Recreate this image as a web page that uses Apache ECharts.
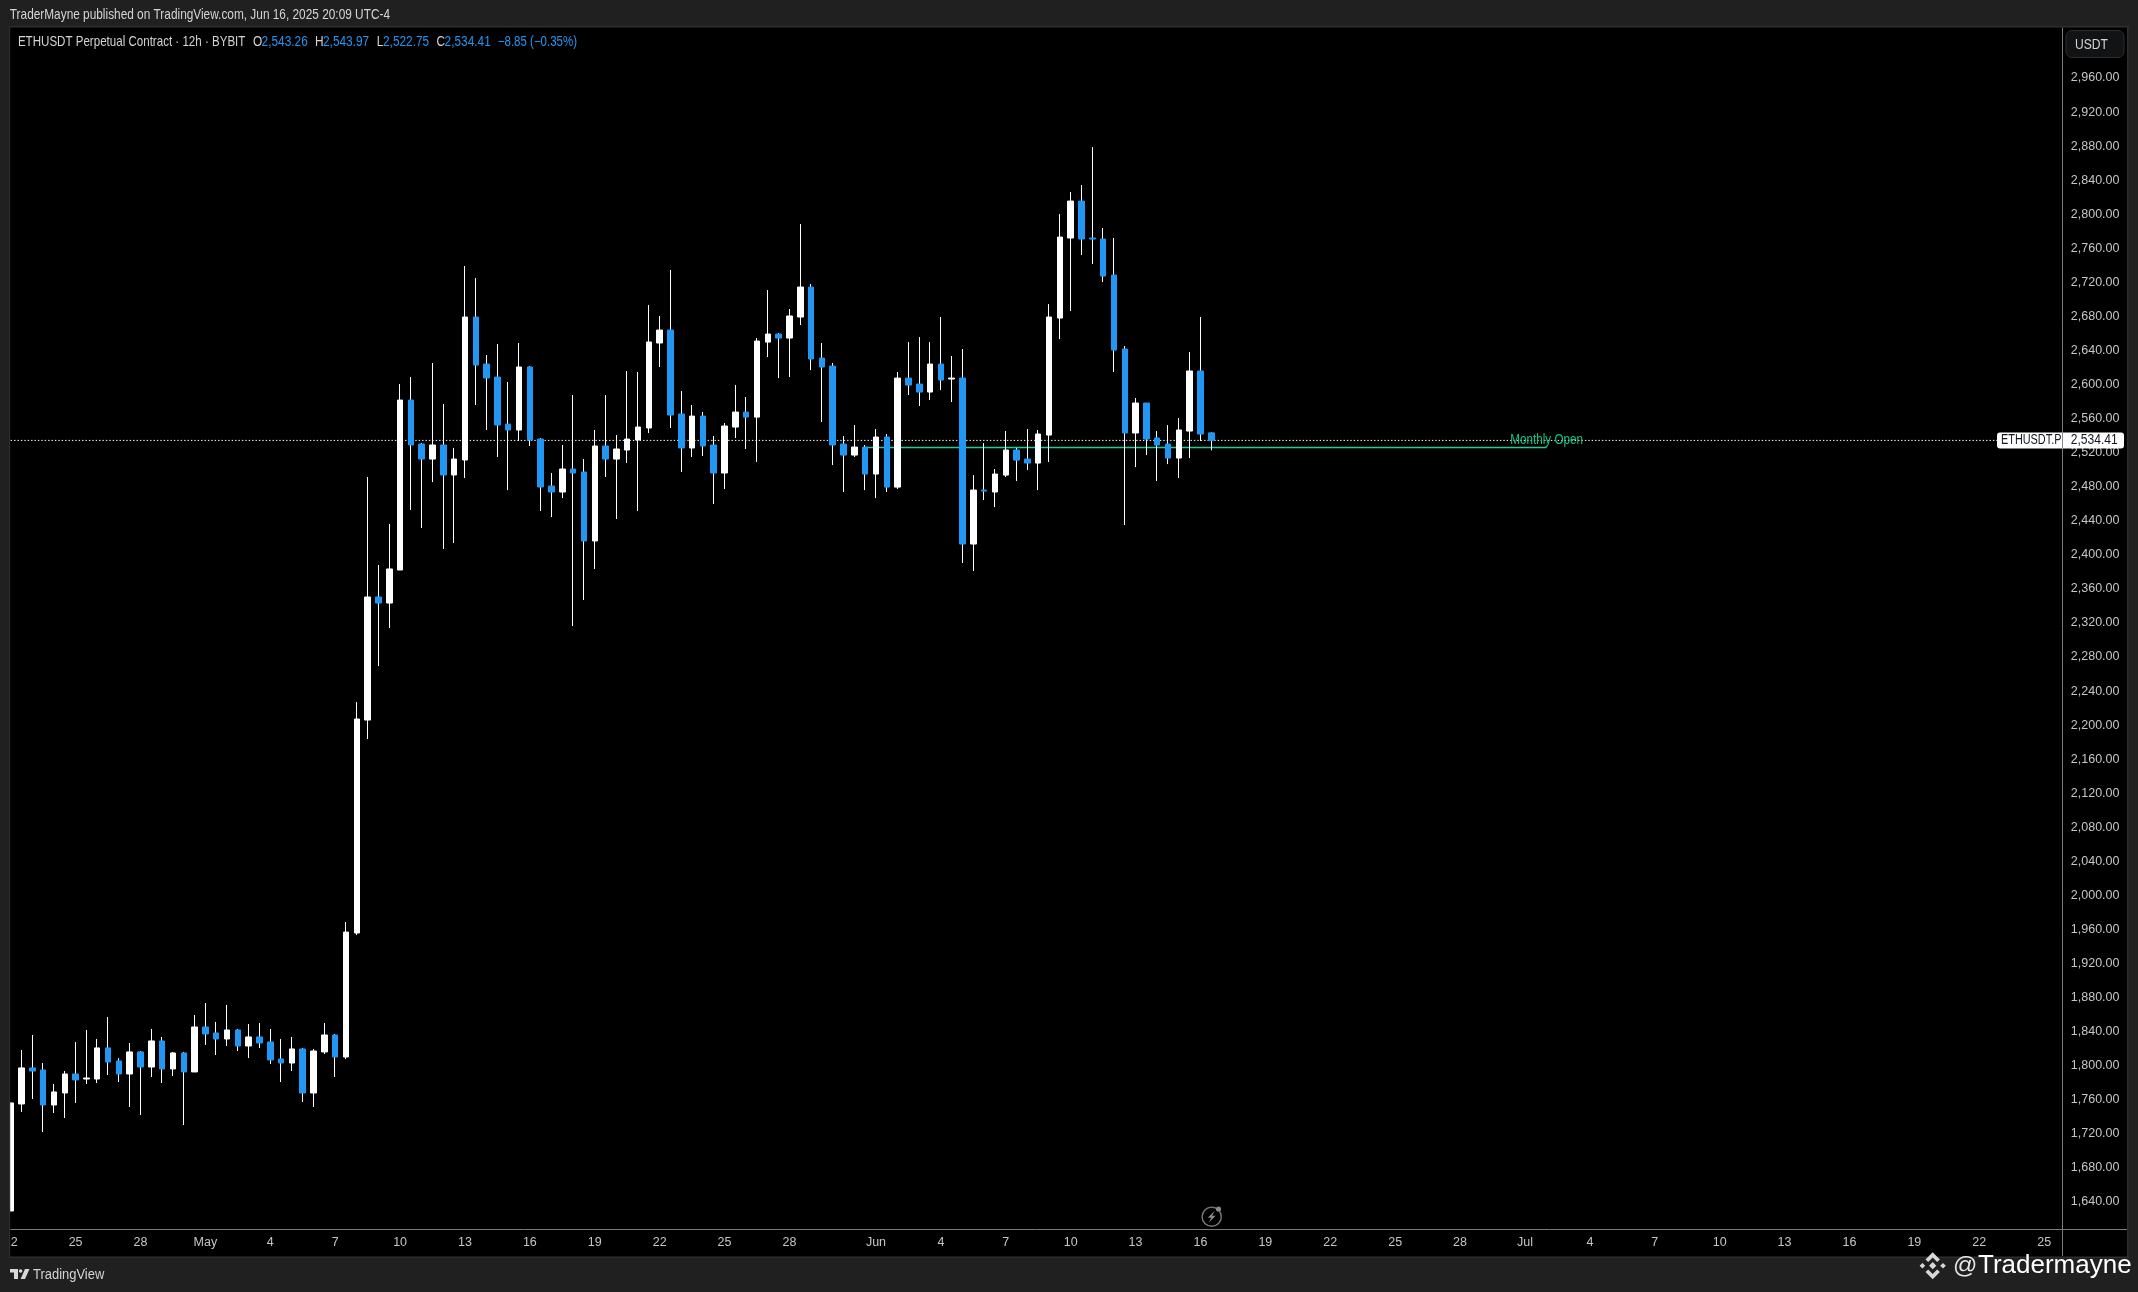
<!DOCTYPE html>
<html><head><meta charset="utf-8">
<style>html,body{margin:0;padding:0;background:#202020;overflow:hidden}#c{width:2138px;height:1292px}</style>
<script src="https://cdn.jsdelivr.net/npm/echarts@6/dist/echarts.min.js"></script>
</head><body><div id="c"></div>
<script>
const opens=[1629.4,1755.1,1797.4,1795.0,1753.9,1768.0,1790.3,1784.4,1784.4,1820.9,1805.6,1790.3,1816.2,1798.5,1829.1,1796.2,1815.0,1792.7,1845.5,1838.5,1831.4,1842.0,1823.2,1833.8,1827.9,1807.9,1803.2,1819.7,1768.0,1816.2,1836.1,1810.3,1955.9,2206.0,2350.5,2343.4,2382.2,2581.8,2530.2,2512.5,2529.0,2493.8,2511.4,2679.3,2624.1,2608.8,2553.6,2546.6,2620.6,2536.0,2480.8,2473.8,2500.8,2497.3,2416.3,2527.8,2512.5,2523.1,2534.9,2549.0,2648.8,2664.0,2565.4,2525.5,2563.0,2529.0,2496.1,2550.1,2567.7,2561.8,2649.9,2659.3,2654.6,2679.3,2714.5,2631.1,2621.7,2530.1,2517.2,2526.6,2494.9,2538.4,2479.6,2607.6,2600.6,2591.2,2624.1,2606.5,2607.6,2412.7,2476.1,2473.8,2493.7,2523.1,2512.5,2507.8,2540.7,2678.1,2772.1,2815.5,2772.1,2770.9,2728.6,2641.7,2543.1,2578.3,2537.2,2530.1,2513.7,2545.4,2615.9,2543.26];
const highs=[1779.7,1818.5,1836.1,1803.2,1778.6,1793.8,1827.9,1842.0,1831.4,1857.3,1809.1,1826.7,1817.3,1843.2,1833.8,1816.2,1816.2,1859.6,1873.7,1851.4,1871.4,1843.2,1849.0,1850.2,1843.2,1831.4,1833.8,1820.9,1819.7,1850.2,1837.3,1968.8,2227.1,2491.4,2388.1,2436.2,2600.6,2608.8,2531.3,2625.3,2577.1,2525.5,2739.2,2725.1,2634.7,2647.6,2603.0,2648.8,2621.8,2537.2,2496.1,2529.0,2587.7,2512.5,2546.6,2587.7,2540.7,2615.9,2614.7,2693.4,2680.5,2734.5,2592.4,2576.0,2567.7,2539.6,2554.8,2599.5,2585.3,2654.6,2711.0,2660.5,2688.7,2788.5,2718.0,2648.8,2625.3,2539.5,2552.4,2529.0,2547.7,2541.9,2614.7,2649.9,2655.8,2649.9,2679.3,2633.5,2641.7,2493.7,2531.3,2500.8,2545.4,2525.4,2547.7,2546.6,2694.5,2800.2,2826.1,2834.3,2878.9,2783.8,2772.1,2645.2,2584.2,2578.3,2545.4,2552.4,2560.7,2638.2,2679.3,2543.97];
const lows=[1625.9,1745.7,1761.0,1722.2,1744.5,1738.6,1756.3,1778.6,1779.7,1789.1,1780.9,1751.6,1742.2,1786.8,1779.7,1788.0,1730.4,1792.7,1824.4,1812.6,1823.2,1817.3,1809.1,1820.9,1802.1,1780.9,1793.8,1757.4,1751.6,1813.8,1786.8,1807.9,1953.5,2183.7,2269.4,2314.1,2382.2,2452.7,2431.5,2485.5,2406.9,2413.9,2490.2,2576.0,2546.6,2514.9,2476.1,2533.7,2527.8,2451.5,2444.4,2466.7,2316.4,2347.0,2383.4,2491.4,2442.1,2507.8,2451.5,2543.1,2620.6,2549.0,2497.3,2514.9,2516.1,2459.7,2477.3,2537.2,2524.3,2509.0,2632.3,2607.6,2608.8,2669.9,2617.0,2556.0,2505.5,2473.8,2514.9,2476.1,2466.7,2473.8,2477.3,2587.7,2574.8,2581.8,2593.5,2579.5,2390.4,2381.0,2464.4,2456.1,2491.4,2486.7,2499.6,2476.1,2509.0,2653.4,2686.3,2752.1,2741.5,2720.4,2614.7,2435.0,2503.1,2517.2,2486.7,2506.6,2490.2,2513.7,2533.7,2522.75];
const closes=[1756.3,1797.4,1793.8,1753.9,1769.2,1790.3,1783.3,1785.6,1820.9,1804.4,1790.3,1816.2,1798.5,1829.1,1796.2,1815.0,1792.7,1845.5,1837.3,1831.4,1842.0,1823.2,1833.8,1826.7,1806.8,1803.2,1819.7,1768.0,1817.3,1836.1,1810.3,1957.0,2207.2,2350.5,2343.4,2383.4,2581.8,2529.0,2512.5,2529.0,2493.8,2512.5,2679.3,2622.9,2607.7,2552.5,2546.6,2620.6,2534.9,2479.7,2473.8,2500.8,2496.1,2416.3,2527.8,2512.5,2524.3,2536.0,2550.1,2650.0,2664.0,2564.2,2525.5,2563.0,2527.8,2496.1,2551.3,2567.7,2561.8,2651.1,2659.3,2654.6,2680.5,2714.5,2630.0,2620.6,2529.0,2517.2,2526.6,2494.9,2538.4,2479.6,2607.6,2599.4,2591.2,2624.1,2605.3,2607.6,2412.7,2476.1,2474.9,2494.9,2523.1,2511.3,2507.8,2541.9,2679.3,2773.2,2815.5,2770.9,2770.9,2727.4,2640.5,2543.1,2578.3,2536.0,2529.0,2513.7,2546.6,2615.9,2541.9,2534.41];

const xTickIndex=[0,6,12,18,24,30,36,42,48,54,60,66,72,80,86,92,98,104,110,116,122,128,134,140,146,152,158,164,170,176,182,188];
const xTickLabels=['22','25','28','May','4','7','10','13','16','19','22','25','28','Jun','4','7','10','13','16','19','22','25','28','Jul','4','7','10','13','16','19','22','25'];
const yTicks=[1640,1680,1720,1760,1800,1840,1880,1920,1960,2000,2040,2080,2120,2160,2200,2240,2280,2320,2360,2400,2440,2480,2520,2560,2600,2640,2680,2720,2760,2800,2840,2880,2920,2960];
const lastClose=2534.41;
const monthlyOpen=2526.1;
const monthlyOpenRange=[79,142];

const FONT='"Liberation Sans",sans-serif';
const idx=opens.map((_,i)=>i);
const wickData=idx.map(i=>[i,opens[i],closes[i],lows[i],highs[i]]);
const bodyData=idx.map(i=>[i,opens[i],closes[i],Math.min(opens[i],closes[i]),Math.max(opens[i],closes[i])]);
const fmt=v=>v.toLocaleString('en-US',{minimumFractionDigits:2,maximumFractionDigits:2});

const chart=echarts.init(document.getElementById('c'),null,{renderer:'canvas',width:2138,height:1292});
chart.setOption({
  animation:false,
  backgroundColor:'#202020',
  grid:{left:10.7,top:27.7,width:2051.6,height:1201.6,containLabel:false},
  xAxis:{type:'value',min:0,max:189.68,splitLine:{show:false},
    axisLine:{show:true,onZero:false,lineStyle:{color:'#7c7c7c',width:1}},
    axisTick:{show:false},
    axisLabel:{customValues:xTickIndex,margin:7,color:'#c6c6c6',fontFamily:FONT,fontSize:12.5,
      formatter:v=>xTickLabels[xTickIndex.indexOf(v)]||''}},
  yAxis:{type:'value',position:'right',min:1607.9,max:3019.1,splitLine:{show:false},scale:true,
    axisLine:{show:true,onZero:false,lineStyle:{color:'#7c7c7c',width:1}},
    axisTick:{show:false},
    axisLabel:{customValues:yTicks,margin:8.5,align:'left',padding:[0,0,2,0],color:'#c6c6c6',fontFamily:FONT,fontSize:12.5,
      formatter:v=>fmt(v)}},
  series:[
    {name:'Last',type:'line',z:1,silent:true,symbol:'none',
     data:[[0,lastClose],[189.68,lastClose]],
     lineStyle:{color:'#ffffff',width:1,type:[1.4,2]}},
    {name:'Monthly Open',type:'line',z:1,silent:true,symbol:'none',
     data:[[monthlyOpenRange[0],monthlyOpen],[monthlyOpenRange[1],monthlyOpen]],
     lineStyle:{color:'#26c996',width:1.4}},
    {name:'Wicks',type:'candlestick',z:2,barWidth:0,silent:true,data:wickData,
     encode:{x:0,y:[1,2,3,4]},
     itemStyle:{color:'#ffffff',color0:'#ffffff',borderColor:'#ffffff',borderColor0:'#ffffff',borderWidth:1}},
    {name:'ETHUSDT',type:'candlestick',z:3,barWidth:6,silent:true,data:bodyData,
     encode:{x:0,y:[1,2,3,4]},
     itemStyle:{color:'#ffffff',color0:'#2196f3',borderColor:'#ffffff',borderColor0:'#2196f3',borderWidth:1}}
  ]
});

const tagY=chart.convertToPixel({yAxisIndex:0},lastClose);
const moPos=chart.convertToPixel({xAxisIndex:0,yAxisIndex:0},[monthlyOpenRange[1],monthlyOpen]);
const TXT='#d4d4d4',BLUE='#2196f3',BD='#2e2e2e',Z=1000,SX=0.835;
const t=(x,y,text,fill,size,extra,sx)=>({type:'text',z:Z+2,x:x,y:y,scaleX:sx||SX,style:Object.assign({text:text,fill:fill,font:size+'px '+FONT,verticalAlign:'middle'},extra||{})});
const rect=(x,y,w,h,fill,extra)=>({type:'rect',z:Z,shape:Object.assign({x:x,y:y,width:w,height:h},extra||{}),style:{fill:fill}});
const poly=(cx,cy,pts,fill)=>({type:'polygon',z:Z+2,shape:{points:pts.map(p=>[cx+p[0],cy+p[1]])},style:{fill:fill}});
const gLine=(x1,y1,x2,y2,c,w)=>({type:'line',z:Z+1,shape:{x1:x1,y1:y1,x2:x2,y2:y2},style:{stroke:c,lineWidth:w}});
const LG='#d8d8d8';
const bx=1932.7,by=1265.7;
chart.setOption({graphic:[
  {type:'rect',z:-10,shape:{x:10,y:27,width:2118,height:1230},style:{fill:'#000000'}},
  rect(0,27,9.5,1232,'#202020'),
  rect(9,26,1.2,1232,BD),
  rect(9,26,2120,1.6,BD),
  rect(2127,26,1.6,1232,BD),
  rect(9,1256.4,2120,1.6,BD),
  gLine(2062.5,1229,2062.5,1256,'#7c7c7c',1),
  gLine(2062,1229.5,2127,1229.5,'#7c7c7c',1),
  t(9.8,15,'TraderMayne published on TradingView.com, Jun 16, 2025 20:09 UTC-4',TXT,14.2),
  t(17.9,41.7,'ETHUSDT Perpetual Contract · 12h · BYBIT',TXT,14.2,null,0.815),
  t(253,41.7,'O',TXT,14.2),t(261.6,41.7,'2,543.26',BLUE,14.2),
  t(315,41.7,'H',TXT,14.2),t(323,41.7,'2,543.97',BLUE,14.2),
  t(376.8,41.7,'L',TXT,14.2),t(383,41.7,'2,522.75',BLUE,14.2),
  t(436.6,41.7,'C',TXT,14.2),t(444.6,41.7,'2,534.41',BLUE,14.2),
  t(497.8,41.7,'−8.85 (−0.35%)',BLUE,14.2,null,0.81),
  t(moPos[0],moPos[1]-7.2,'Monthly Open','#12c48b',14,{align:'center'}),
  {type:'rect',z:Z,shape:{x:2066,y:30.5,width:58,height:27,r:6},style:{fill:'#121315',stroke:'#2c2c2c',lineWidth:1}},
  t(2075,44.5,'USDT','#d4d4d4',14.5),
  {type:'rect',z:Z,shape:{x:1997,y:tagY-8,width:65,height:16,r:[3,0,0,3]},style:{fill:'#ffffff'}},
  {type:'rect',z:Z,shape:{x:2062,y:tagY-8,width:62,height:16,r:[0,3,3,0]},style:{fill:'#ffffff'}},
  gLine(2062.5,tagY-8,2062.5,tagY+8,'#8a8a8a',1),
  t(2001,tagY,'ETHUSDT.P','#131722',14.5,null,0.75),
  t(2070.7,tagY,fmt(lastClose),'#131722',14.5),
  {type:'circle',z:Z,shape:{cx:1211.7,cy:1216.7,r:9.6},style:{fill:'none',stroke:'#7a7a7a',lineWidth:1.4}},
  {type:'circle',z:Z,shape:{cx:1218.5,cy:1209,r:2.6},style:{fill:'#8a8a8a'}},
  poly(1211.7,1216.7,[[3,-6],[-4,1],[-0.5,1],[-3,6],[4,-1],[0.5,-1]],'#8a8a8a'),
  poly(0,0,[[10,1269],[18,1269],[18,1279],[14,1279],[14,1272.6],[10,1272.6]],LG),
  {type:'circle',z:Z+2,shape:{cx:20.6,cy:1271,r:1.8},style:{fill:LG}},
  poly(0,0,[[25,1269],[29.5,1269],[25,1279],[20.6,1279]],LG),
  t(33,1275,'TradingView',TXT,15.5),
  poly(bx,by,[[0,-3.6],[3.6,0],[0,3.6],[-3.6,0]],LG),
  poly(bx,by,[[-10.3,-2.8],[-7.5,0],[-10.3,2.8],[-13.1,0]],LG),
  poly(bx,by,[[10.3,-2.8],[13.1,0],[10.3,2.8],[7.5,0]],LG),
  poly(bx,by,[[0,-13.5],[7.2,-6.3],[4.5,-3.8],[0,-8.3],[-4.5,-3.8],[-7.2,-6.3]],LG),
  poly(bx,by,[[0,13.5],[7.2,6.3],[4.5,3.8],[0,8.3],[-4.5,3.8],[-7.2,6.3]],LG),
  {type:'text',z:Z+2,x:1953,y:1266,style:{text:'@',fill:'#e6e6e6',font:'24px "Liberation Sans",sans-serif',verticalAlign:'middle'}},
  {type:'text',z:Z+2,x:1978,y:1266,style:{text:'Tradermayne',fill:'#ffffff',font:'26px "Liberation Sans",sans-serif',verticalAlign:'middle'}}
]});
</script></body></html>
